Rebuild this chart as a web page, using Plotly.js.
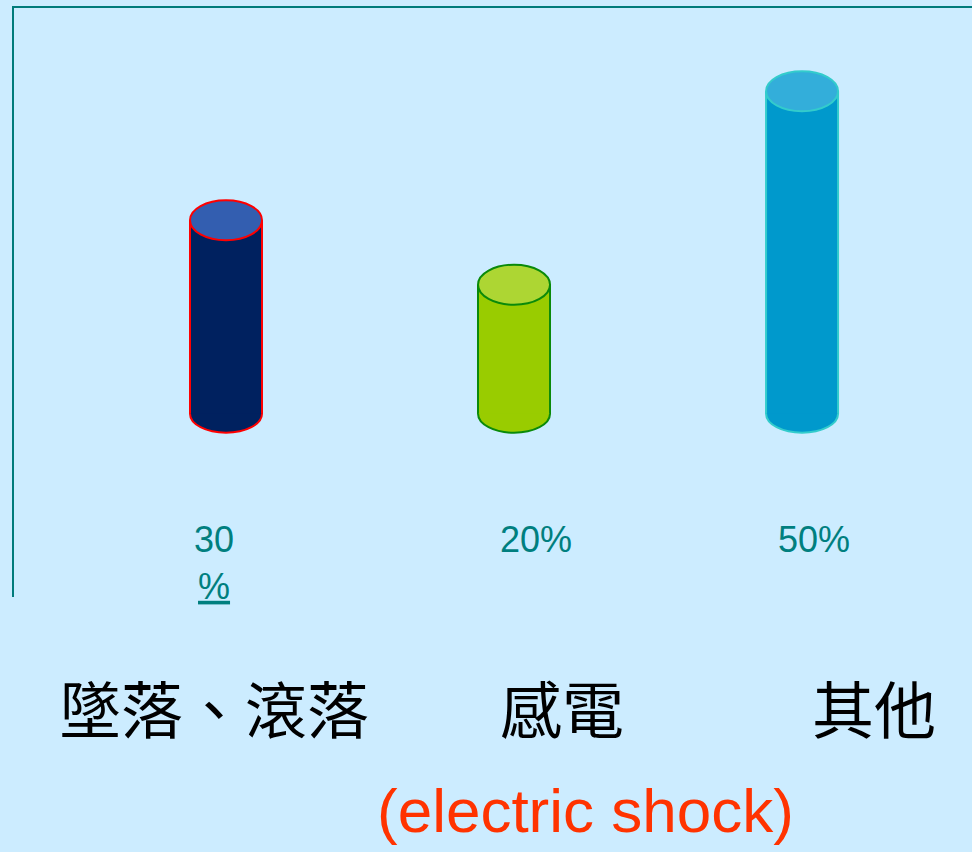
<!DOCTYPE html>
<html>
<head>
<meta charset="utf-8">
<script src="https://cdn.plot.ly/plotly-3.0.1.min.js"></script>
<style>html,body{margin:0;padding:0;background:#CCECFF;}#chart{width:972px;height:852px;}</style>
</head>
<body>
<div id="chart"></div>
<script>
// ---- data ----
const categories = ['墜落、滾落', '感電', '其他'];
const values = [30, 20, 50];
const noteText = '(electric shock)';

// ---- styles ----
const bodyColors = ['#00215F', '#99CC00', '#0099CC'];
const topColors = ['#335EB0', '#ADD633', '#33AEDA'];
const edgeColors = ['#FF0000', '#0A8A0A', '#33CCCC'];
const barW = 0.25;
const teal = '#007B7B';
const bg = '#CCECFF';

const idx = categories.map((c, i) => i);

const shapes = [];
idx.forEach(i => {
  // bottom ellipse (below bar)
  shapes.push({type: 'circle', layer: 'below', xref: 'x', yref: 'y', ysizemode: 'pixel',
    yanchor: 0, y0: -19, y1: 19, x0: i - barW / 2, x1: i + barW / 2,
    fillcolor: bodyColors[i], line: {color: edgeColors[i], width: 2}});
  // side lines
  [-1, 1].forEach(sgn => shapes.push({type: 'line', xref: 'x', yref: 'y',
    x0: i + sgn * barW / 2, x1: i + sgn * barW / 2, y0: 0, y1: values[i],
    line: {color: edgeColors[i], width: 2}}));
  // top ellipse
  shapes.push({type: 'circle', layer: 'above', xref: 'x', yref: 'y', ysizemode: 'pixel',
    yanchor: values[i], y0: -20, y1: 20, x0: i - barW / 2, x1: i + barW / 2,
    fillcolor: topColors[i], line: {color: edgeColors[i], width: 2}});
});

const valShift = [-12, 22, 12];
const annotations = [];
idx.forEach(i => {
  annotations.push({xref: 'x', yref: 'paper', x: i, xshift: valShift[i], y: 0.135, yanchor: 'top',
    text: i === 0 ? values[i] + '<br><u>%</u>' : values[i] + '%', showarrow: false,
    font: {family: 'Liberation Sans, Arial, sans-serif', size: 36, color: '#007F7F'}});
});
const catX = [0.2088, 0.572, 0.8977];
idx.forEach(i => {
  annotations.push({xref: 'paper', yref: 'paper', x: catX[i], y: -0.187, xanchor: 'center', yanchor: 'middle',
    text: categories[i], showarrow: false,
    font: {family: 'Noto Sans CJK TC, sans-serif', size: 62, color: '#000000'}});
});
annotations.push({xref: 'paper', yref: 'paper', x: 0.597, y: -0.362, xanchor: 'center', yanchor: 'middle',
  text: noteText, showarrow: false,
  font: {family: 'Liberation Sans, Arial, sans-serif', size: 62, color: '#FF3300'}});

const trace = {
  type: 'bar', x: categories, y: values, width: barW,
  marker: {color: bodyColors, line: {width: 0}},
  hoverinfo: 'skip'
};

const layout = {
  width: 972, height: 852,
  margin: {l: 14, r: 0, t: 8, b: 255},
  paper_bgcolor: bg, plot_bgcolor: bg,
  showlegend: false,
  xaxis: {type: 'category', side: 'top', range: [-0.736, 2.590], showline: true, linecolor: teal, linewidth: 2,
    showticklabels: false, ticks: '', showgrid: false, zeroline: false, fixedrange: true},
  yaxis: {range: [-28.4, 62.9], showline: true, linecolor: teal, linewidth: 2,
    showticklabels: false, ticks: '', showgrid: false, zeroline: false, fixedrange: true},
  shapes: shapes,
  annotations: annotations
};

Plotly.newPlot('chart', [trace], layout, {displayModeBar: false, staticPlot: true});
</script>
</body>
</html>
